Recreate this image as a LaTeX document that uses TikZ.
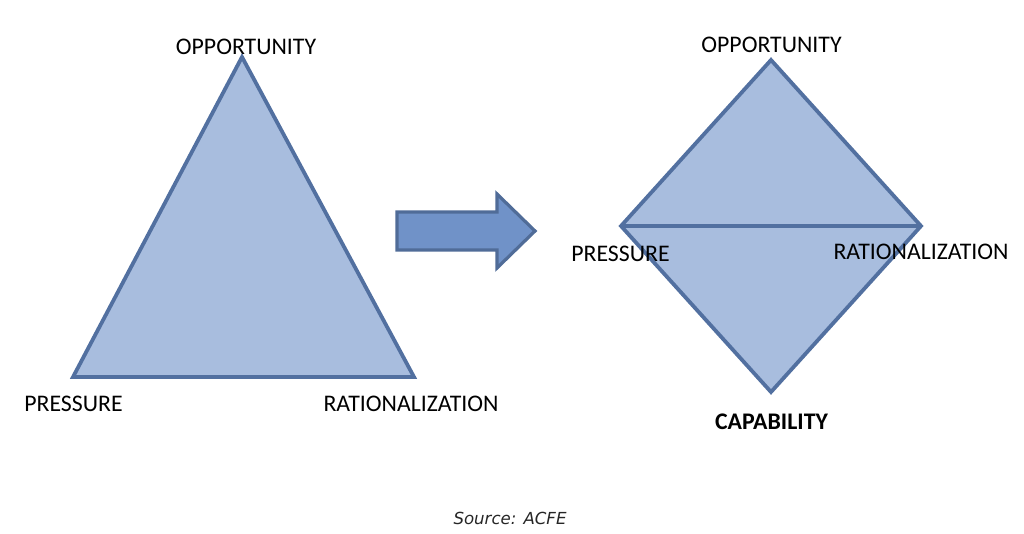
\documentclass[tikz,border=0pt]{standalone}
\usepackage{fontspec}
\setmainfont{Carlito}
\newfontfamily\srcfont{DejaVu Sans}
\usetikzlibrary{calc}
\definecolor{shapefill}{RGB}{168,189,222}
\definecolor{shapeline}{RGB}{82,112,160}
\definecolor{arrowfill}{RGB}{112,146,200}
\definecolor{arrowline}{RGB}{80,108,152}
\tikzset{
  polyshape/.style={fill=shapefill, draw=shapeline, line width=3.8pt, line join=miter},
  lbl/.style={inner sep=0pt, font=\fontsize{23.8}{26}\selectfont, text=black},
}
\begin{document}
\begin{tikzpicture}[x=1pt,y=-1pt]
\useasboundingbox (0,0) rectangle (1024,533);
% triangle
\coordinate (tA) at (242,57);
\coordinate (tL) at (73,377);
\coordinate (tR) at (414,377);
\draw[polyshape] (tA) -- (tL) -- (tR) -- cycle;
% arrow
\draw[fill=arrowfill, draw=arrowline, line width=3.2pt, line join=miter]
  (397,212) -- (497,212) -- (497,194) -- (535,231) -- (497,268) -- (497,250) -- (397,250) -- cycle;
% diamond
\coordinate (dT) at (771,60);
\coordinate (dL) at (621,226);
\coordinate (dR) at (921,226);
\coordinate (dB) at (771,392);
\draw[polyshape] (dT) -- (dR) -- (dB) -- (dL) -- cycle;
\draw[polyshape] (dL) -- (dR);
% labels
\node[lbl] (l1) at (246,47) {OPPORTUNITY};
\node[lbl] (l2) at (73.5,404) {PRESSURE};
\node[lbl] (l3) at (411,404) {RATIONALIZATION};
\node[lbl] (l4) at (771.5,45) {OPPORTUNITY};
\node[lbl] (l5) at (620.5,254) {PRESSURE};
\node[lbl] (l6) at (921,252) {RATIONALIZATION};
\node[lbl, font=\fontsize{23.8}{26}\selectfont\bfseries] (l7) at (771.5,422) {CAPABILITY};
\node[lbl, font=\fontsize{16.6}{19}\selectfont\srcfont\itshape, text=black!85] (l8) at (510,518) {Source: ACFE};
\end{tikzpicture}
\end{document}
